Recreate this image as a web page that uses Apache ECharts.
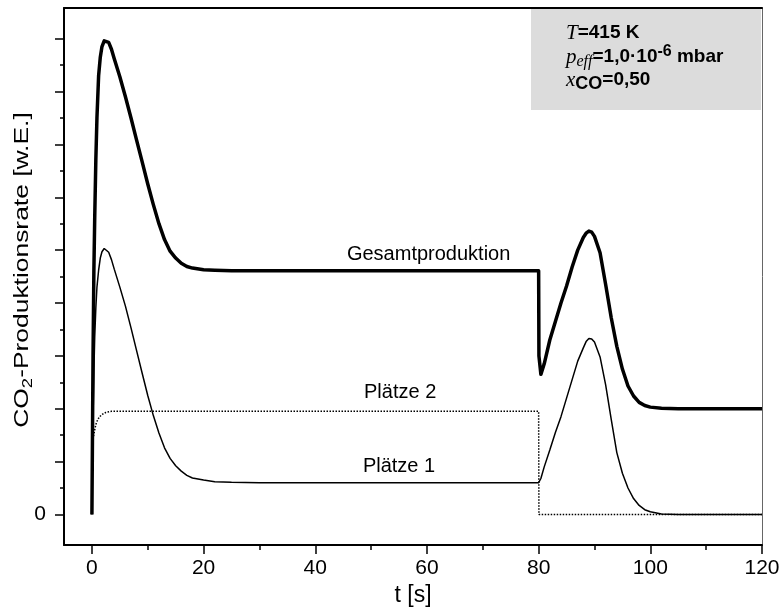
<!DOCTYPE html>
<html>
<head>
<meta charset="utf-8">
<script src="https://cdn.jsdelivr.net/npm/echarts@6/dist/echarts.min.js"></script>
<style>
  html, body { margin: 0; background: #fff; }
  #chart { width: 784px; height: 612px; }
</style>
</head>
<body>
<div id="chart"></div>
<script>
// Zeitachse [s] fuer Gesamtproduktion und Plaetze 1
const zeit = [0, 0.1, 0.2, 0.35, 0.5, 0.7, 0.9, 1.2, 1.5, 1.8,
  2.2, 2.5, 3, 3.5, 4, 5, 6, 7, 8, 9,
  10, 11, 12, 13, 14, 15, 16, 17, 18, 20,
  22, 25, 30, 40, 50, 60, 70, 80, 80.05, 80.4,
  81, 82, 83, 84, 85, 86, 87, 88, 88.5, 89, 89.5, 90,
  91, 92, 93, 94, 95, 96, 97, 98, 99, 100,
  102, 105, 110, 120];
const gesamt = [0, 1.5, 3.0, 4.6, 5.6, 6.7, 7.5, 8.3, 8.65, 8.85,
  8.96, 8.98, 8.93, 8.8, 8.62, 8.28, 7.9, 7.5, 7.08, 6.67,
  6.25, 5.86, 5.5, 5.2, 4.98, 4.85, 4.75, 4.69, 4.66, 4.63,
  4.62, 4.61, 4.61, 4.61, 4.61, 4.61, 4.61, 4.61, 3.0, 2.65,
  2.85, 3.3, 3.65, 4.0, 4.32, 4.68, 5.0, 5.24, 5.32, 5.36, 5.34, 5.26,
  4.95, 4.35, 3.72, 3.18, 2.75, 2.43, 2.24, 2.12, 2.06, 2.03,
  2.01, 2.0, 2.0, 2.0];
const plaetze1 = [0, 1.0, 1.8, 2.7, 3.35, 3.9, 4.3, 4.62, 4.85, 4.97,
  5.03, 5.03, 4.96, 4.82, 4.64, 4.3, 3.94, 3.53, 3.1, 2.67,
  2.25, 1.87, 1.54, 1.26, 1.06, 0.92, 0.82, 0.74, 0.69, 0.65,
  0.62, 0.61, 0.6, 0.6, 0.6, 0.6, 0.6, 0.6, 0.6, 0.68,
  0.9, 1.22, 1.55, 1.85, 2.2, 2.55, 2.9, 3.15, 3.27, 3.33, 3.32, 3.26,
  2.98, 2.45, 1.8, 1.17, 0.78, 0.5, 0.3, 0.17, 0.09, 0.05,
  0.01, 0, 0, 0];
// Plaetze 2 (gepunktet)
const zeitP2 = [0.3, 0.5, 0.7, 0.9, 1.3, 1.8, 2.5, 3.5, 5, 80, 80.05, 120];
const plaetze2 = [1.48, 1.6, 1.7, 1.76, 1.84, 1.89, 1.93, 1.95, 1.95, 1.95, 0, 0];

// Achsen
const xMajor = [0, 20, 40, 60, 80, 100, 120];
const xMinor = [10, 30, 50, 70, 90, 110];
const yMajor = [0, 1, 2, 3, 4, 5, 6, 7, 8, 9];
const yMinor = [0.5, 1.5, 2.5, 3.5, 4.5, 5.5, 6.5, 7.5, 8.5];
const yLabels = [0];

const FONT = "'Liberation Sans', Arial, sans-serif";
const SERIF = "'Liberation Serif', 'Times New Roman', serif";

const pairs = (xs, ys) => xs.map((x, i) => [x, ys[i]]);

let mychart = echarts.init(document.getElementById("chart"));

const xBase = { type: "value", min: -5, max: 120, splitLine: { show: false } };
const yBase = { type: "value", min: -0.58, max: 9.58, splitLine: { show: false } };
const annot = { show: true, position: "inside", formatter: "{b}", fontSize: 20, color: "#000", fontFamily: FONT };

let option = {
  animation: false,
  grid: { left: 64, right: 22, top: 8, bottom: 64 },
  xAxis: [
    {
      ...xBase,
      position: "bottom",
      name: "t [s]",
      nameLocation: "middle",
      nameGap: 38,
      nameTextStyle: { fontSize: 23, color: "#000", fontFamily: FONT },
      axisLine: { onZero: false, lineStyle: { color: "#000", width: 2 } },
      axisTick: { length: 9, customValues: xMajor, lineStyle: { color: "#000", width: 1.5 } },
      axisLabel: { customValues: xMajor, fontSize: 21, color: "#000", fontFamily: FONT, margin: 13 },
    },
    {
      ...xBase,
      position: "bottom",
      axisLine: { show: false, onZero: false },
      axisTick: { length: 5, customValues: xMinor, lineStyle: { color: "#000", width: 1.5 } },
      axisLabel: { show: false },
    },
    {
      ...xBase,
      position: "top",
      axisLine: { onZero: false, lineStyle: { color: "#000", width: 2 } },
      axisTick: { show: false },
      axisLabel: { show: false },
    },
  ],
  yAxis: [
    {
      ...yBase,
      position: "left",
      axisLine: { show: true, onZero: false, lineStyle: { color: "#000", width: 2 } },
      axisTick: { show: true, length: 9, customValues: yMajor, lineStyle: { color: "#000", width: 1.5 } },
      axisLabel: { customValues: yLabels, fontSize: 21, color: "#000", fontFamily: FONT, margin: 18 },
    },
    {
      ...yBase,
      position: "left",
      axisLine: { show: false, onZero: false },
      axisTick: { show: true, length: 4, customValues: yMinor, lineStyle: { color: "#000", width: 1.5 } },
      axisLabel: { show: false },
    },
    {
      ...yBase,
      position: "right",
      axisLine: { show: true, onZero: false, lineStyle: { color: "#666", width: 1 } },
      axisTick: { show: false },
      axisLabel: { show: false },
    },
  ],
  series: [
    {
      name: "Plätze 2",
      type: "line",
      data: pairs(zeitP2, plaetze2),
      showSymbol: false,
      lineStyle: { color: "#000", width: 1.5, type: [1.5, 1.5] },
      markPoint: { symbolSize: 0, label: annot, data: [{ name: "Plätze 2", coord: [55.2, 2.3] }] },
    },
    {
      name: "Plätze 1",
      type: "line",
      data: pairs(zeit, plaetze1),
      showSymbol: false,
      lineStyle: { color: "#000", width: 1.5 },
      markPoint: { symbolSize: 0, label: annot, data: [{ name: "Plätze 1", coord: [55, 0.9] }] },
    },
    {
      name: "Gesamtproduktion",
      type: "line",
      data: pairs(zeit, gesamt),
      showSymbol: false,
      lineStyle: { color: "#000", width: 3.5, join: "round" },
      markPoint: { symbolSize: 0, label: annot, data: [{ name: "Gesamtproduktion", coord: [60.3, 4.92] }] },
    },
  ],
  graphic: [
    {
      type: "text",
      x: 22,
      y: 270,
      rotation: Math.PI / 2,
      scaleX: 1.32,
      style: {
        text: "{n|CO}{s|2}{n|-Produktionsrate [w.E.]}",
        align: "center",
        verticalAlign: "middle",
        rich: {
          n: { fontSize: 20, fontFamily: FONT, fill: "#000", lineHeight: 26 },
          s: { fontSize: 14, fontFamily: FONT, fill: "#000", lineHeight: 15, verticalAlign: "bottom" },
        },
      },
    },
    {
      type: "rect",
      shape: { x: 531, y: 9, width: 230, height: 101 },
      style: { fill: "#dcdcdc" },
      z: -1,
    },
    {
      type: "text",
      x: 566,
      y: 33,
      style: {
        text: "{it|T}{b|=415 K}",
        align: "left",
        verticalAlign: "middle",
        rich: {
          it: { fontSize: 21, fontFamily: SERIF, fontStyle: "italic", fill: "#000", lineHeight: 26 },
          b: { fontSize: 19, fontFamily: FONT, fontWeight: "bold", fill: "#000", lineHeight: 26 },
        },
      },
    },
    {
      type: "text",
      x: 566,
      y: 57,
      style: {
        text: "{it|p}{isub|eff}{b|=1,0·10}{sup|-6}{b| mbar}",
        align: "left",
        verticalAlign: "middle",
        rich: {
          it: { fontSize: 21, fontFamily: SERIF, fontStyle: "italic", fill: "#000", lineHeight: 26 },
          isub: { fontSize: 16, fontFamily: SERIF, fontStyle: "italic", fill: "#000", lineHeight: 16, verticalAlign: "bottom" },
          b: { fontSize: 19, fontFamily: FONT, fontWeight: "bold", fill: "#000", lineHeight: 26 },
          sup: { fontSize: 16, fontFamily: FONT, fontWeight: "bold", fill: "#000", lineHeight: 16, verticalAlign: "top" },
        },
      },
    },
    {
      type: "text",
      x: 566,
      y: 80,
      style: {
        text: "{it|x}{bsub|CO}{b|=0,50}",
        align: "left",
        verticalAlign: "middle",
        rich: {
          it: { fontSize: 21, fontFamily: SERIF, fontStyle: "italic", fill: "#000", lineHeight: 26 },
          bsub: { fontSize: 18, fontFamily: FONT, fontWeight: "bold", fill: "#000", lineHeight: 19, verticalAlign: "bottom" },
          b: { fontSize: 19, fontFamily: FONT, fontWeight: "bold", fill: "#000", lineHeight: 26 },
        },
      },
    },
  ],
};
mychart.setOption(option);
</script>
</body>
</html>
